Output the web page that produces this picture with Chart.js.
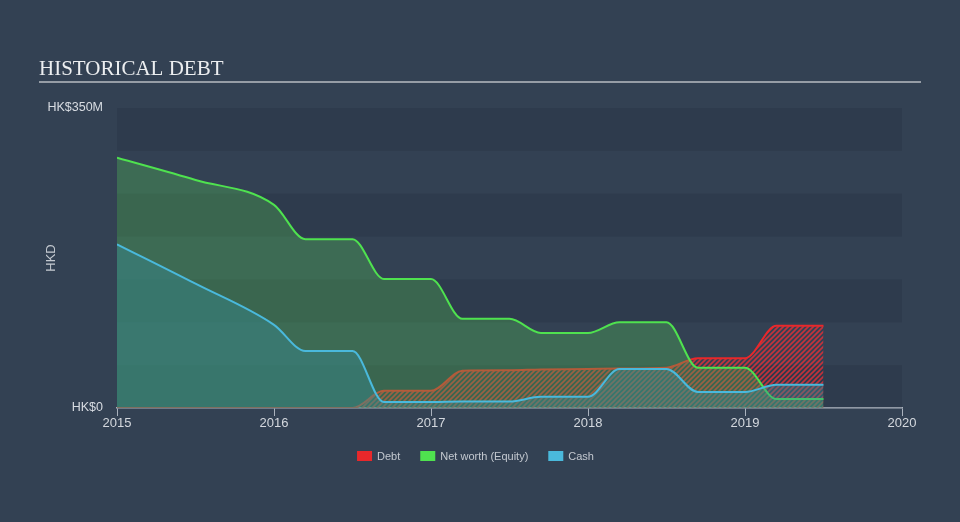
<!DOCTYPE html>
<html><head><meta charset="utf-8">
<script src="https://cdn.jsdelivr.net/npm/chart.js@4/dist/chart.umd.min.js"></script>
<style>
html,body{margin:0;padding:0;background:#334153;}
#wrap{width:960px;height:522px;position:relative;}
canvas{display:block;}
</style>
</head><body>
<div id="wrap"><canvas id="c" width="960" height="522"></canvas></div>
<script>
const titleText = 'HISTORICAL DEBT';
const years  = [2015.0, 2015.5, 2016.0, 2016.2, 2016.5, 2016.7, 2017.0, 2017.2, 2017.5, 2017.7, 2018.0, 2018.2, 2018.5, 2018.7, 2019.0, 2019.2, 2019.5];
const debt   = [0, 0, 0, 0, 0, 20, 20, 43.5, 44, 45, 45.5, 46, 47, 58, 58, 96, 96];
const equity = [292, 266, 237, 197, 197, 150.5, 150.5, 104, 104, 87.5, 87.5, 100, 100, 47, 47, 10.5, 10.5];
const cash   = [191, 145, 97, 66.5, 66.5, 7, 7, 7.5, 7.5, 13, 13, 45.5, 45.5, 18.7, 18.7, 27, 27];
const xTicks = [2015, 2016, 2017, 2018, 2019, 2020];
const yTicks = [0, 350];
const seriesNames = ['Debt', 'Net worth (Equity)', 'Cash'];
const seriesColors = ['#e8282b', '#4fe24f', '#4ab9dc'];

function makeHatch() {
  const c = document.createElement('canvas');
  c.width = 5; c.height = 5;
  const g = c.getContext('2d');
  g.strokeStyle = 'rgba(232,48,55,0.8)';
  g.lineWidth = 1.6;
  g.beginPath();
  g.moveTo(-1, 6); g.lineTo(6, -1);
  g.moveTo(-1, 1); g.lineTo(1, -1);
  g.moveTo(4, 6); g.lineTo(6, 4);
  g.stroke();
  return g.createPattern(c, 'repeat');
}

const pts = arr => years.map((x, i) => ({x: x, y: arr[i]}));

const bandPlugin = {
  id: 'bands',
  beforeDatasetsDraw(chart) {
    const {ctx, chartArea: {left, right}, scales: {y}} = chart;
    ctx.save();
    for (let v = 0; v < 350; v += 100) {
      const t = y.getPixelForValue(v + 50), b = y.getPixelForValue(v);
      ctx.fillStyle = 'rgba(26,36,50,0.18)';
      ctx.fillRect(left, t, right - left, b - t);
    }
    ctx.restore();
  }
};

const decorPlugin = {
  id: 'decor',
  afterDraw(chart) {
    const ctx = chart.ctx;
    ctx.save();
    ctx.fillStyle = '#eceef0';
    ctx.font = '21px "Liberation Serif", "Times New Roman", serif';
    ctx.textBaseline = 'alphabetic';
    ctx.textAlign = 'left';
    ctx.fillText(titleText, 39, 75);
    ctx.strokeStyle = '#b8bcc2';
    ctx.lineWidth = 1.5;
    ctx.beginPath(); ctx.moveTo(39, 82); ctx.lineTo(921, 82); ctx.stroke();
    // legend
    ctx.font = '11px "Liberation Sans", Arial, sans-serif';
    ctx.textBaseline = 'middle';
    const boxW = 15, boxH = 10, gap = 5, pad = 20;
    const widths = seriesNames.map(n => boxW + gap + ctx.measureText(n).width);
    const total = widths.reduce((a, b) => a + b, 0) + pad * (widths.length - 1);
    let x = 475.5 - total / 2;
    const cy = 456;
    seriesNames.forEach((n, i) => {
      ctx.fillStyle = seriesColors[i];
      ctx.fillRect(x, cy - boxH / 2, boxW, boxH);
      ctx.fillStyle = '#c4c9d0';
      ctx.fillText(n, x + boxW + gap, cy + 0.5);
      x += widths[i] + pad;
    });
    ctx.restore();
  }
};

const common = {pointRadius: 0, pointHoverRadius: 0, borderWidth: 2, cubicInterpolationMode: 'monotone', fill: 'origin'};

new Chart(document.getElementById('c'), {
  type: 'line',
  data: {
    datasets: [
      Object.assign({label: seriesNames[0], data: pts(debt), borderColor: seriesColors[0], backgroundColor: makeHatch(), order: 3}, common),
      Object.assign({label: seriesNames[1], data: pts(equity), borderColor: seriesColors[1], backgroundColor: 'rgba(80,185,85,0.35)', order: 2}, common),
      Object.assign({label: seriesNames[2], data: pts(cash), borderColor: seriesColors[2], backgroundColor: 'rgba(55,140,150,0.42)', order: 1}, common)
    ]
  },
  options: {
    responsive: false,
    animation: false,
    events: [],
    layout: {padding: {left: 0, right: 58, top: 108, bottom: 84}},
    plugins: {legend: {display: false}, tooltip: {enabled: false}},
    scales: {
      x: {
        type: 'linear', min: 2015, max: 2020,
        afterBuildTicks: s => { s.ticks = xTicks.map(v => ({value: v})); },
        afterFit: s => { s.height = 30; },
        ticks: {callback: v => String(v), color: '#d4d8de', font: {size: 13, family: '"Liberation Sans", Arial, sans-serif'}, padding: 0, maxRotation: 0},
        grid: {display: true, drawOnChartArea: false, drawTicks: true, tickLength: 8, color: '#aab2bd', lineWidth: 1},
        border: {display: true, color: '#aab2bd', width: 1.5}
      },
      y: {
        min: 0, max: 350,
        afterBuildTicks: s => { s.ticks = yTicks.map(v => ({value: v})); },
        afterFit: s => { s.width = 117; },
        ticks: {callback: v => v === 0 ? 'HK$0' : 'HK$' + v + 'M', color: '#d8dce2', font: {size: 12.5, family: '"Liberation Sans", Arial, sans-serif'}, padding: 14},
        grid: {display: false, drawTicks: false},
        border: {display: false},
        title: {display: true, text: 'HKD', color: '#c4c9d0', font: {size: 13, family: '"Liberation Sans", Arial, sans-serif'}, padding: {top: 44, bottom: 0}}
      }
    }
  },
  plugins: [bandPlugin, decorPlugin]
});
</script>
</body></html>
